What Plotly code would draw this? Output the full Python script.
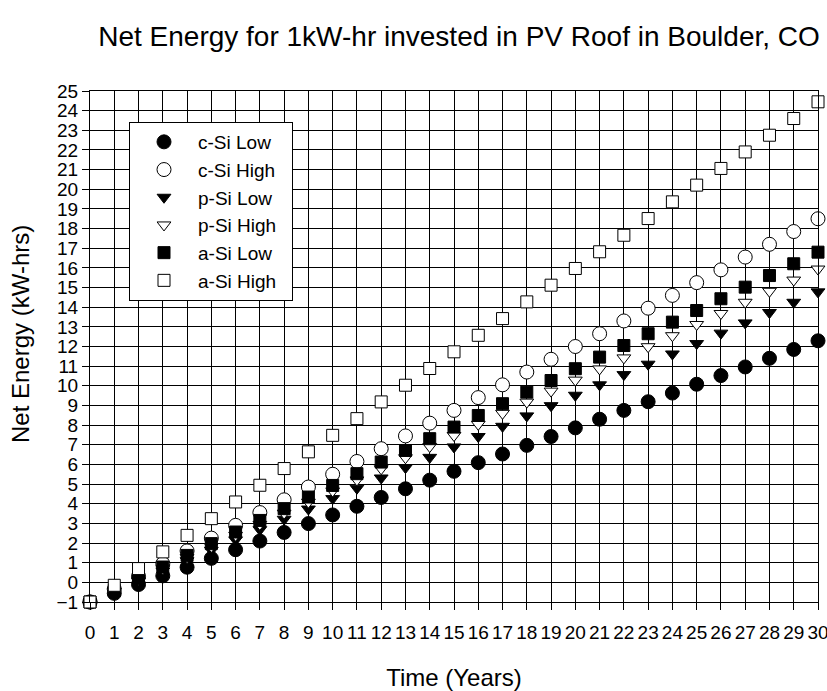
import plotly.graph_objects as go

years = list(range(0, 31))

c_si_low = [-1.00, -0.56, -0.11, 0.33, 0.77, 1.22, 1.66, 2.10, 2.54, 2.99, 3.43,
            3.87, 4.32, 4.76, 5.20, 5.65, 6.09, 6.53, 6.97, 7.42, 7.86,
            8.30, 8.75, 9.19, 9.63, 10.08, 10.52, 10.96, 11.40, 11.85, 12.29]
c_si_high = [-1.00, -0.35, 0.30, 0.95, 1.60, 2.25, 2.90, 3.55, 4.20, 4.85, 5.50,
             6.15, 6.80, 7.45, 8.10, 8.75, 9.40, 10.05, 10.70, 11.35, 12.00,
             12.65, 13.30, 13.95, 14.60, 15.25, 15.90, 16.55, 17.20, 17.85, 18.50]
p_si_low = [-1.00, -0.47, 0.05, 0.58, 1.10, 1.63, 2.16, 2.68, 3.21, 3.73, 4.26,
            4.79, 5.31, 5.84, 6.36, 6.89, 7.42, 7.94, 8.47, 8.99, 9.52,
            10.05, 10.57, 11.10, 11.62, 12.15, 12.68, 13.20, 13.73, 14.25, 14.78]
p_si_high = [-1.00, -0.44, 0.13, 0.69, 1.26, 1.82, 2.39, 2.95, 3.52, 4.08, 4.65,
             5.21, 5.78, 6.34, 6.91, 7.47, 8.04, 8.60, 9.17, 9.73, 10.29,
             10.86, 11.42, 11.99, 12.55, 13.12, 13.68, 14.25, 14.81, 15.38, 15.94]
a_si_low = [-1.00, -0.41, 0.19, 0.78, 1.37, 1.97, 2.56, 3.15, 3.75, 4.34, 4.93,
            5.53, 6.12, 6.71, 7.31, 7.90, 8.49, 9.09, 9.68, 10.27, 10.87,
            11.46, 12.05, 12.65, 13.24, 13.83, 14.43, 15.02, 15.61, 16.21, 16.80]
a_si_high = [-1.00, -0.15, 0.70, 1.55, 2.39, 3.24, 4.09, 4.94, 5.79, 6.64, 7.48,
             8.33, 9.18, 10.03, 10.88, 11.73, 12.57, 13.42, 14.27, 15.12, 15.97,
             16.82, 17.66, 18.51, 19.36, 20.21, 21.06, 21.90, 22.75, 23.60, 24.45]

series = [
    ("c-Si Low", c_si_low, "circle", "black", 14),
    ("c-Si High", c_si_high, "circle", "white", 14),
    ("p-Si Low", p_si_low, "triangle-down", "black", 12),
    ("p-Si High", p_si_high, "triangle-down", "white", 12),
    ("a-Si Low", a_si_low, "square", "black", 12),
    ("a-Si High", a_si_high, "square", "white", 12),
]

fig = go.Figure()
for name, vals, sym, fill, size in series:
    # non-breaking spaces only pad the legend box to the reference width
    label = name + "\u00a0\u00a0" if name == "p-Si High" else name
    fig.add_trace(go.Scatter(
        x=years, y=vals, mode="markers", name=label,
        cliponaxis=False,
        marker=dict(symbol=sym, color=fill, size=size,
                    line=dict(color="black", width=1)),
    ))

FONT = "Liberation Sans, Arial, sans-serif"
axis_common = dict(
    showgrid=True, gridcolor="black", gridwidth=1,
    showline=True, linecolor="black", linewidth=1, mirror=True,
    zeroline=False, ticks="outside", ticklen=7, tickcolor="black",
    tickfont=dict(family=FONT, size=19, color="black"),
    dtick=1, automargin=False,
)

W, H = 827, 691
L, R, T, B = 90, 9, 91, 89
plot_h = H - T - B

fig.update_layout(
    width=W, height=H,
    margin=dict(l=L, r=R, t=T, b=B),
    paper_bgcolor="white", plot_bgcolor="white",
    font=dict(family=FONT, color="black"),
    title=dict(text="Net Energy for 1kW-hr invested in PV Roof in Boulder, CO",
               xref="container", x=459 / W, xanchor="center",
               yref="container", y=1 - 36 / H, yanchor="middle",
               font=dict(family=FONT, size=28, color="black")),
    xaxis=dict(range=[0, 30], tick0=0,
               title=dict(text="Time (Years)", font=dict(family=FONT, size=24), standoff=30),
               ticklabelstandoff=6, ticklabeloverflow="allow", **axis_common),
    yaxis=dict(range=[-1, 25], tick0=-1, **axis_common),
    legend=dict(x=(129 - L) / (W - L - R), y=(602 - 122) / plot_h,
                xanchor="left", yanchor="top",
                bgcolor="white", bordercolor="black", borderwidth=1,
                font=dict(family=FONT, size=19, color="black"),
                itemwidth=58),
    showlegend=True,
    annotations=[dict(
        text="Net Energy (kW-hrs)", textangle=-90, showarrow=False,
        xref="paper", yref="paper",
        x=(20 - L) / (W - L - R), y=(T + plot_h - 334) / plot_h,
        xanchor="center", yanchor="middle",
        font=dict(family=FONT, size=24, color="black"),
    )],
)

fig.write_html(
    "out.html",
    config={"displayModeBar": False},
    post_script="document.body.style.margin='0';document.body.style.overflow='hidden';",
)
